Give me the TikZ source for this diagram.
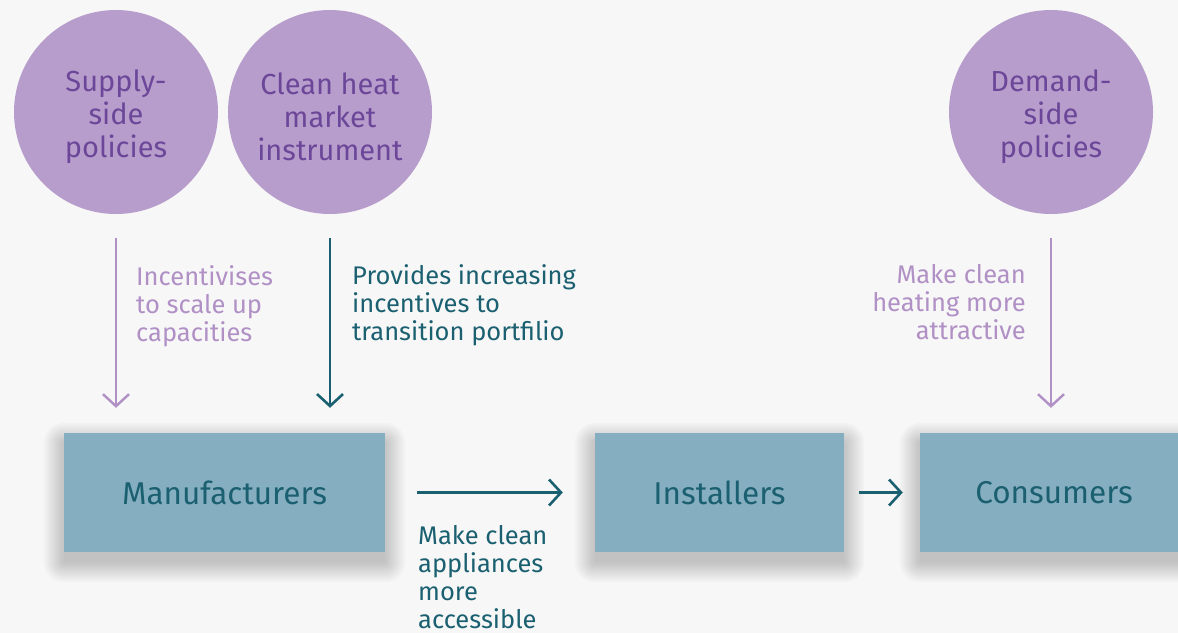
\documentclass[tikz,border=0pt]{standalone}
\usepackage{fontspec}
\setmainfont{Fira Sans}
\usetikzlibrary{arrows.meta}

\definecolor{bgcol}{HTML}{F7F7F7}
\definecolor{circfill}{HTML}{B79DCB}
\definecolor{circtext}{HTML}{6C4799}
\definecolor{lilac}{HTML}{B090C5}
\definecolor{tealdark}{HTML}{1B6070}
\definecolor{boxfill}{HTML}{86AEC1}

\pgfdeclarelayer{paper}
\pgfdeclarelayer{shade}
\pgfsetlayers{paper,shade,main}

\begin{document}
\begin{tikzpicture}[x=1pt,y=-1pt,
  policy/.style={circle, fill=circfill, minimum size=204pt, inner sep=0pt},
  policytext/.style={align=center, text=circtext, inner sep=0pt,
    font=\fontsize{29}{33}\selectfont},
  actor/.style={rectangle, fill=boxfill, text=tealdark, inner sep=0pt,
    minimum height=119pt, font=\fontsize{31.5}{33}\selectfont},
  lbl/.style={inner sep=0pt, font=\fontsize{25.5}{28}\selectfont},
  softarrow/.style={draw=lilac, line width=2pt,
    -{Straight Barb[length=12pt,width=26pt,line width=2.4pt]}},
  hardarrow/.style={draw=tealdark, line width=2.6pt,
    -{Straight Barb[length=12pt,width=26pt,line width=2.6pt]}},
  shadelayer/.style={fill=black, opacity=0.02},
]
\useasboundingbox (0,0) rectangle (1178,633);
\begin{pgfonlayer}{paper}
  \fill[bgcol] (0,0) rectangle (1178,633);
\end{pgfonlayer}

% policy levers
\node[policy] (sup) at (116,112) {};
\node[policy] (chm) at (330,112) {};
\node[policy] (dem) at (1051,112) {};
\node[policytext] (supT) at ([yshift=-5pt]sup.center) {Supply-\\side\\policies};
\node[policytext] (chmT) at ([yshift=-5pt]chm.center) {Clean heat\\market\\instrument};
\node[policytext] (demT) at ([yshift=-5pt]dem.center) {Demand-\\side\\policies};

% market actors
\node[actor, minimum width=321pt] (man) at (224.5,492.5) {Manufacturers};
\node[actor, minimum width=249pt] (ins) at (719.5,492.5) {Installers};
\node[actor, minimum width=268pt] (con) at (1054,492.5) {Consumers};

% soft drop shadows under the actor boxes
\begin{pgfonlayer}{shade}
  \foreach \b in {man,ins,con}{
    \foreach \r in {0,2,...,20}{
      \fill[shadelayer, rounded corners=\r pt]
        ([xshift=-\r pt, yshift={\r*1pt-10pt}]\b.north west) rectangle
        ([xshift=\r pt, yshift={-\r*1pt-10pt}]\b.south east);
    }
  }
\end{pgfonlayer}

% drop points of the policy arrows on the actor boxes
\coordinate (supEnd) at (sup.south |- man.north);
\coordinate (chmEnd) at (chm.south |- man.north);
\coordinate (demEnd) at (dem.south |- con.north);

\draw[softarrow] ([yshift=-24pt]sup.south) -- ([yshift=25pt]supEnd);
\draw[hardarrow] ([yshift=-24pt]chm.south) -- ([yshift=25pt]chmEnd);
\draw[softarrow] ([yshift=-24pt]dem.south) -- ([yshift=25pt]demEnd);

% flow along the supply chain
\draw[hardarrow] ([xshift=32pt]man.east) -- ([xshift=-32pt]ins.west);
\draw[hardarrow] ([xshift=15pt]ins.east) -- ([xshift=-17pt]con.west);

% arrow labels
\node[lbl, text=lilac, align=left, anchor=north west] (lsup) at (136,265.5)
  {Incentivises\\to scale up\\capacities};
\node[lbl, text=tealdark, align=left, anchor=north west] (lchm) at (352,264.5)
  {Provides increasing\\incentives to\\transition portfilio};
\node[lbl, text=lilac, align=right, anchor=north east] (ldem) at (1026,264.5)
  {Make clean\\heating more\\attractive};
\node[lbl, text=tealdark, align=left, anchor=north west] (lman) at (418,525.5)
  {Make clean\\appliances\\more\\accessible};
\end{tikzpicture}
\end{document}
